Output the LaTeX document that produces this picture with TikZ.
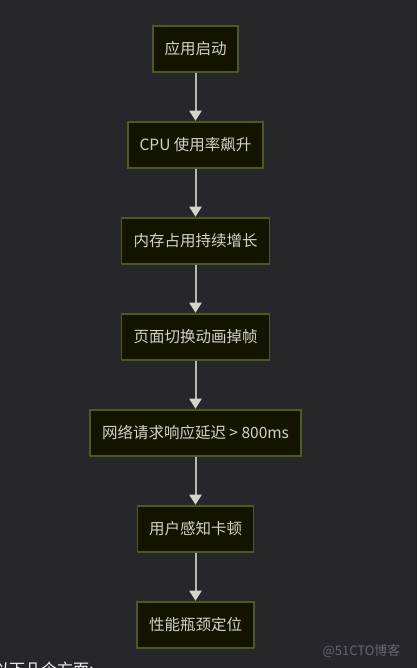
\documentclass[tikz,border=0pt]{standalone}
\usepackage{fontspec}
\setmainfont{Noto Sans CJK SC}
\usetikzlibrary{arrows.meta}
\definecolor{bgc}{HTML}{26262B}
\definecolor{boxfill}{HTML}{141400}
\definecolor{boxline}{HTML}{4D5A22}
\definecolor{txtc}{HTML}{D2D2CC}
\definecolor{arrc}{HTML}{B8B8B0}
\definecolor{tipc}{HTML}{D4D4CE}
\definecolor{wmc}{HTML}{66666C}
\begin{document}
\begin{tikzpicture}[x=1pt,y=1pt,
  stepbox/.style={draw=boxline, line width=1.5pt, fill=boxfill, text=txtc,
    minimum height=46pt, inner xsep=2pt, inner ysep=0pt,
    font=\fontsize{15.5}{17}\selectfont},
  flow/.style={draw=arrc, line width=2pt,
    -{Triangle[width=12pt,length=10pt,fill=tipc,color=tipc]}, shorten >=0.5pt}]
\fill[bgc] (0,0) rectangle (417,668);
\useasboundingbox (0,0) rectangle (417,668);
\clip (0,0) rectangle (417,668);
\node[stepbox, minimum width=85pt]  (n1) at (195.5,619) {应用启动};
\node[stepbox, minimum width=135pt] (n2) at (195.5,523) {CPU 使用率飙升};
\node[stepbox, minimum width=148pt] (n3) at (195.5,427) {内存占用持续增长};
\node[stepbox, minimum width=148pt] (n4) at (195.5,331) {页面切换动画掉帧};
\node[stepbox, minimum width=211pt] (n5) at (195.5,235) {网络请求响应延迟 > 800ms};
\node[stepbox, minimum width=116pt] (n6) at (195.5,139) {用户感知卡顿};
\node[stepbox, minimum width=117pt] (n7) at (195.5,43) {性能瓶颈定位};
\draw[flow] (n1) -- (n2);
\draw[flow] (n2) -- (n3);
\draw[flow] (n3) -- (n4);
\draw[flow] (n4) -- (n5);
\draw[flow] (n5) -- (n6);
\draw[flow] (n6) -- (n7);
\node[anchor=base west, text=white!90!gray, inner sep=0pt,
  font=\fontsize{16}{18}\selectfont] (tail) at (-7,-8) {以下几个方面:};
\node[anchor=center, text=wmc, inner sep=0pt,
  font=\fontsize{13}{15}\selectfont] (wm) at (361.5,17) {@51CTO博客};
\end{tikzpicture}
\end{document}
